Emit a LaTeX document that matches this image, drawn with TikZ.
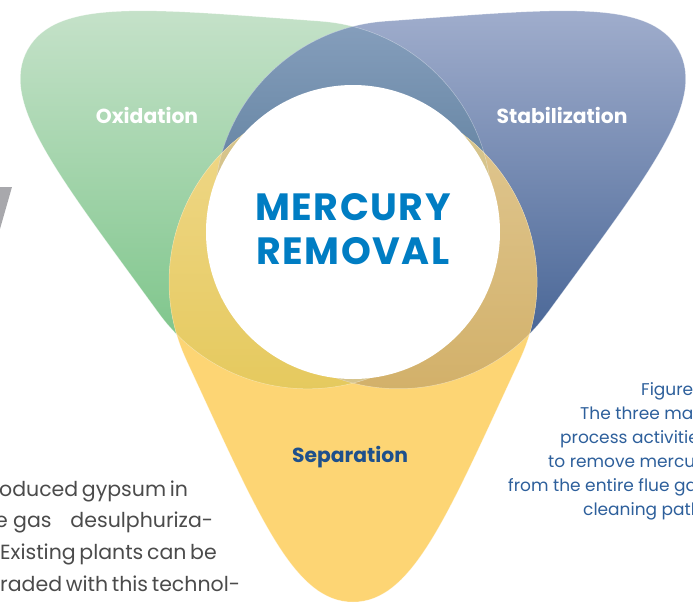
\documentclass[tikz,border=0pt]{standalone}
\usepackage{fontspec}
\setmainfont{Poppins}

\definecolor{oxtop}{RGB}{198,226,202}
\definecolor{oxbot}{RGB}{115,193,129}
\definecolor{sttop}{RGB}{161,174,205}
\definecolor{stbot}{RGB}{58,90,141}
\definecolor{mixtop}{RGB}{137,161,191}
\definecolor{mixbot}{RGB}{54,95,125}
\definecolor{sepfill}{RGB}{253,213,116}
\definecolor{sepoxtop}{RGB}{240,217,141}
\definecolor{sepoxbot}{RGB}{229,201,93}
\definecolor{sepsttop}{RGB}{225,201,148}
\definecolor{sepstbot}{RGB}{210,176,105}
\definecolor{allthree}{RGB}{214,196,140}
\definecolor{mercblue}{RGB}{0,125,195}
\definecolor{sepblue}{RGB}{30,80,140}
\definecolor{bodygray}{RGB}{75,75,75}
\definecolor{capblue}{RGB}{45,95,155}
\definecolor{shardgray}{RGB}{168,168,172}

\begin{document}
\begin{tikzpicture}[
    x=1pt, y=1pt,
    petal/.style={insert path={(-166.8,-129.8) .. controls (-95,-284) and (-60,-372) .. (0,-372)
        .. controls (60,-372) and (95,-284) .. (166.8,-129.8)
        arc[start angle=-25, end angle=205, radius=184pt] -- cycle}},
    rim/.style={draw=white, draw opacity=0.4, line width=0.5pt},
    hub/.style={circle, fill=white, minimum size=294pt, inner sep=0pt},
    hubtext/.style={align=center, text=mercblue, inner sep=0pt,
        font=\fontsize{38}{44}\selectfont\bfseries\addfontfeatures{LetterSpace=4}},
    petallabel/.style={anchor=base, text=white, inner sep=0pt,
        font=\fontsize{20.3}{24}\selectfont\bfseries},
    body/.style={anchor=base west, text=bodygray, inner sep=0pt,
        font=\fontsize{20.5}{24}\selectfont},
    caption/.style={anchor=base west, text=capblue, inner sep=0pt,
        font=\fontsize{17}{20}\selectfont}
]
\useasboundingbox (-353,230) rectangle (340,-373);
\clip (-353,230) rectangle (340,-373);

% grey shard at the left border
\fill[shardgray] (-353,43) -- (-341,43) -- (-353,1) -- cycle;

% oxidation petal
\begin{scope}
  \clip[rotate=-119, petal];
  \shade[top color=oxtop, bottom color=oxbot] (-353,225) rectangle (340,-165);
\end{scope}
% stabilization petal
\begin{scope}
  \clip[rotate=119, petal];
  \shade[top color=sttop, bottom color=stbot] (-353,225) rectangle (340,-165);
\end{scope}
\begin{scope}
  \clip[rotate=-119, petal];
  \clip[rotate=119, petal];
  \shade[top color=mixtop, bottom color=mixbot] (-353,225) rectangle (340,-165);
\end{scope}

% separation petal
\fill[sepfill, petal];
\begin{scope}
  \clip[petal];
  \clip[rotate=-119, petal];
  \shade[top color=sepoxtop, bottom color=sepoxbot] (-353,135) rectangle (340,-165);
\end{scope}
\begin{scope}
  \clip[petal];
  \clip[rotate=119, petal];
  \shade[top color=sepsttop, bottom color=sepstbot] (-353,135) rectangle (340,-165);
\end{scope}
\begin{scope}
  \clip[petal];
  \clip[rotate=-119, petal];
  \clip[rotate=119, petal];
  \fill[allthree] (-353,135) rectangle (340,-165);
\end{scope}

% thin edges
\path[rim, rotate=-119, petal];
\path[rim, rotate=119, petal];
\path[rim, petal];

% centre
\node[hub] (hub) at (0,-2) {};
\node[hubtext] (title) at (0,0.5) {MERCURY\\REMOVAL};

\node[petallabel] (oxid) at (-206,107) {Oxidation};
\node[petallabel] (stab) at (209,107) {Stabilization};
\node[petallabel, text=sepblue] (sep) at (-3,-232) {Separation};

% running text on the left
\node[body] (body1) at (-354,-266) {\makebox[188pt][s]{\llap{pr}oduced gypsum in}};
\node[body] (body2) at (-340,-297.7) {\makebox[200pt][s]{\llap{flue\ }gas desulphuriza-}};
\node[body] (body3) at (-353,-329.3) {\makebox[213pt][s]{\llap{tion.\ }Existing plants can be}};
\node[body] (body4) at (-353,-361) {\makebox[234pt][s]{\llap{upg}raded with this technol-}};

% caption on the right
\node[caption] (cap1) at (288,-165) {Figure};
\node[caption] (cap2) at (227,-189) {The three main};
\node[caption] (cap3) at (207,-213) {process activities};
\node[caption] (cap4) at (195,-237) {to remove mercury};
\node[caption] (cap5) at (155,-261) {from the entire flue gas};
\node[caption] (cap6) at (230,-285) {cleaning path};
\end{tikzpicture}
\end{document}
